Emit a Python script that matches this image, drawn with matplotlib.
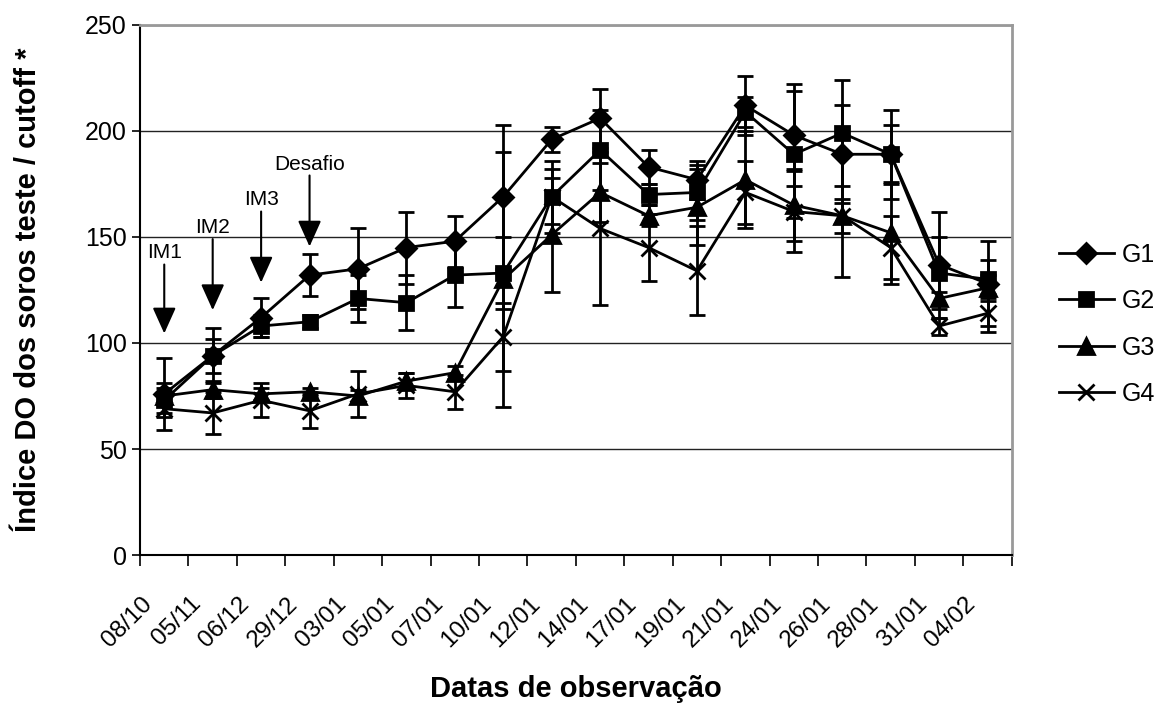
import numpy as np
import matplotlib.pyplot as plt
from matplotlib.lines import Line2D

plt.rcParams['font.family'] = ['Liberation Sans', 'DejaVu Sans']

datas = ['08/10', '05/11', '06/12', '29/12', '03/01', '05/01', '07/01', '10/01', '12/01',
         '14/01', '17/01', '19/01', '21/01', '24/01', '26/01', '28/01', '31/01', '04/02']

g1 = [76, 94, 112, 132, 135, 145, 148, 169, 196, 206, 183, 177, 212, 198, 189, 189, 137, 128]
g2 = [73, 94, 108, 110, 121, 119, 132, 133, 169, 191, 170, 171, 209, 189, 199, 189, 133, 130]
g3 = [75, 78, 76, 77, 75, 82, 86, 130, 151, 171, 160, 164, 177, 165, 160, 152, 121, 126]
g4 = [69, 67, 73, 68, 76, 80, 77, 103, 169, 154, 145, 134, 171, 162, 160, 145, 108, 114]

g1_err = [17, 13, 9, 10, 19, 17, 12, 34, 6, 14, 8, 9, 14, 24, 23, 21, 25, 20]
g2_err = [8, 8, 5, 3, 11, 13, 15, 17, 17, 19, 5, 13, 7, 30, 25, 14, 17, 9]
g3_err = [4, 4, 3, 2, 3, 4, 3, 60, 27, 14, 5, 18, 23, 17, 29, 24, 3, 6]
g4_err = [2, 10, 8, 8, 11, 6, 8, 16, 13, 36, 16, 21, 15, 19, 8, 15, 4, 9]

# arrows for immunisations and challenge: (label, index, text y, arrow start y, tip y)
eventos = [('IM1', 0, 142.5, 137, 104.5),
           ('IM2', 1, 154.7, 149, 115.5),
           ('IM3', 2, 167.5, 162, 128.5),
           ('Desafio', 3, 184.4, 179, 145.5)]

fig = plt.figure(figsize=(11.67, 7.04), dpi=100)
ax = fig.add_axes([0.12, 0.2116, 0.747, 0.753])

x = np.arange(len(datas))
series = [(g1, g1_err, 'D', 10, 'G1'), (g2, g2_err, 's', 10, 'G2'),
          (g3, g3_err, '^', 11, 'G3'), (g4, g4_err, 'x', 12, 'G4')]
handles = []
for vals, err, mk, ms, nome in series:
    ax.errorbar(x, vals, yerr=err, color='black', lw=2, marker=mk, ms=ms,
                mew=2, capsize=6, capthick=2, elinewidth=2)
    handles.append(Line2D([], [], color='black', lw=2, marker=mk, ms=ms, mew=2, label=nome))

for txt, i, ty, y0, y1 in eventos:
    ax.annotate('', xy=(i, y1), xytext=(i, y0),
                arrowprops=dict(arrowstyle='-|>,head_width=0.36,head_length=0.8',
                                mutation_scale=20, color='black', lw=1.5,
                                shrinkA=0, shrinkB=0))
    ax.text(i, ty, txt, ha='center', va='center', fontsize=15)

ax.set_xlim(-0.5, len(datas) - 0.5)
ax.set_ylim(0, 250)
ax.set_yticks([0, 50, 100, 150, 200, 250])
ax.yaxis.grid(True, color='#222222', lw=1)
ax.set_axisbelow(True)
ax.tick_params(axis='y', labelsize=18, length=6, width=1.2, direction='out')

# date labels sit a bit left of each category centre; the visible ticks are the boundaries
ax.set_xticks(x - 0.475)
ax.set_xticklabels(datas, rotation=45, ha='right', va='top', rotation_mode='anchor', fontsize=17.5)
ax.set_xticks(np.arange(len(datas) + 1) - 0.5, minor=True)
ax.tick_params(axis='x', which='major', length=0, pad=27)
ax.tick_params(axis='x', which='minor', length=8, width=1.2, direction='out')

for s in ['top', 'right']:
    ax.spines[s].set_color('#999999')
    ax.spines[s].set_linewidth(2)
for s in ['left', 'bottom']:
    ax.spines[s].set_linewidth(1.5)

ax.set_ylabel('Índice DO dos soros teste / cutoff *', fontsize=21, fontweight='bold')
ax.yaxis.set_label_coords(-0.112, 0.5)
ax.set_xlabel('Datas de observação', fontsize=21, fontweight='bold')
ax.xaxis.set_label_coords(0.5, -0.227)

ax.legend(handles=handles, loc='center left', bbox_to_anchor=(1.054, 0.435), frameon=False,
          fontsize=18, handlelength=2.2, labelspacing=0.9, handletextpad=0.3,
          borderpad=0, borderaxespad=0)

fig.savefig('out.png', dpi=100)
